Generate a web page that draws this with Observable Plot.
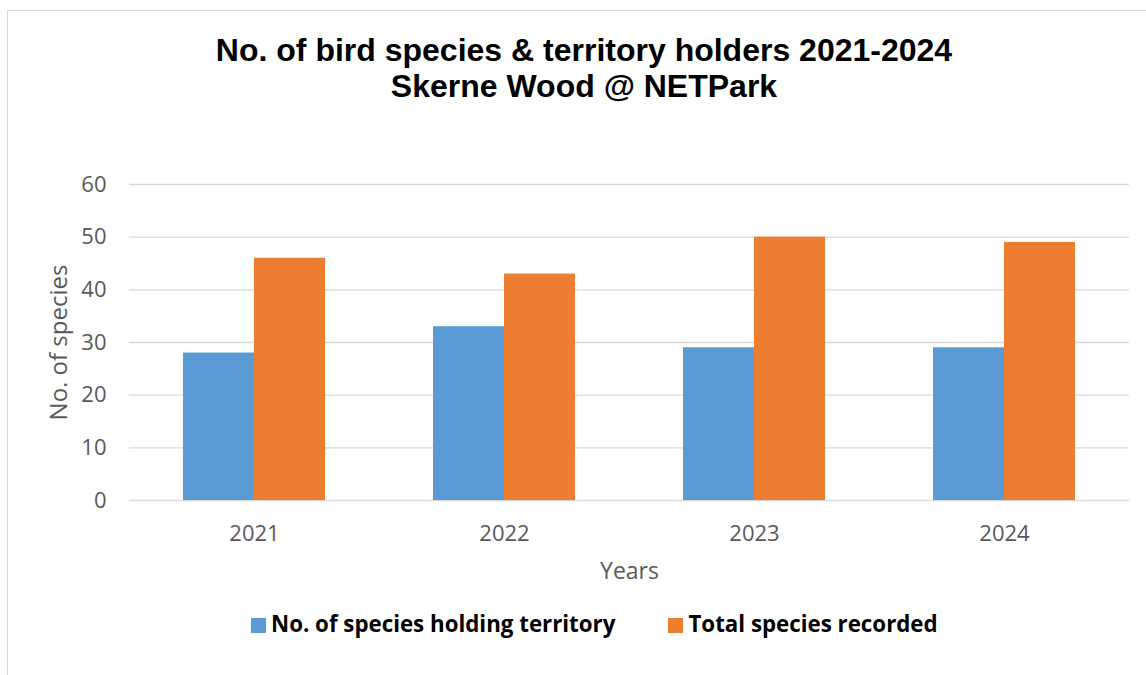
<!DOCTYPE html>
<html>
<head>
<meta charset="utf-8">
<script src="https://cdn.jsdelivr.net/npm/d3@7"></script>
<script src="https://cdn.jsdelivr.net/npm/@observablehq/plot@0.6"></script>
<style>
  html, body { margin: 0; padding: 0; background: #fff; }
  #wrap { position: relative; width: 1146px; height: 675px; overflow: hidden; background: #fff; }
  #frame { position: absolute; left: 7px; top: 10px; width: 1300px; height: 800px; border: 1.5px solid #d9d9d9; box-sizing: border-box; }
  #title { position: relative; height: 120px; box-sizing: border-box; padding-top: 32px; padding-left: 22px;
           font-family: "Liberation Sans", Arial, sans-serif; font-weight: bold; font-size: 32px; line-height: 36px;
           text-align: center; color: #000; }
  #chart { position: relative; height: 480px; }
  #legend { position: relative; height: 75px; display: flex; align-items: center; padding-left: 251px; padding-bottom: 28px; box-sizing: border-box;
            font-family: "Open Sans", sans-serif; font-weight: bold; font-size: 22.3px; color: #000; }
  .item { display: flex; align-items: center; }
  .sw { width: 15px; height: 15px; margin-right: 5px; margin-top: 3px; }
</style>
</head>
<body>
<div id="wrap">
  <div id="frame"></div>
  <div id="title">No. of bird species &amp; territory holders 2021-2024<br>Skerne Wood @ NETPark</div>
  <div id="chart"></div>
  <div id="legend"></div>
</div>
<script>
const years = ["2021", "2022", "2023", "2024"];
const territoryHolders = [28, 33, 29, 29];
const totalSpecies = [46, 43, 50, 49];
const seriesNames = ["No. of species holding territory", "Total species recorded"];
const seriesColors = ["#5B9BD5", "#ED7D31"];
const yTicks = [0, 10, 20, 30, 40, 50, 60];

const rows = [];
years.forEach((yr, i) => {
  rows.push({year: yr, series: seriesNames[0], value: territoryHolders[i]});
  rows.push({year: yr, series: seriesNames[1], value: totalSpecies[i]});
});

const chart = Plot.plot({
  width: 1146,
  height: 480,
  marginTop: 64,
  marginBottom: 100,
  marginLeft: 128,
  marginRight: 16,
  style: {fontFamily: "'Open Sans', sans-serif", fontSize: "22px", color: "#595959", background: "transparent"},
  fx: {domain: years, padding: 0},
  x: {domain: seriesNames, paddingInner: 0, paddingOuter: 0.75, axis: null},
  y: {domain: [0, 60]},
  color: {domain: seriesNames, range: seriesColors},
  marks: [
    Plot.gridY(yTicks, {stroke: "#d9d9d9", strokeOpacity: 1, strokeWidth: 1.3}),
    Plot.barY(rows, {fx: "year", x: "series", y: "value", fill: "series"}),
    Plot.axisY(yTicks, {tickSize: 0, tickPadding: 23, fontSize: 22, label: null}),
    Plot.axisY([], {tickSize: 0, fontSize: 24, label: "No. of species", labelAnchor: "center", labelArrow: "none", labelOffset: 80}),
    Plot.axisFx({anchor: "bottom", tickSize: 0, tickPadding: 25, fontSize: 22, label: null}),
    Plot.axisFx([], {anchor: "bottom", tickSize: 0, fontSize: 23, label: "Years", labelAnchor: "center", labelArrow: "none", labelOffset: 78})
  ]
});
document.getElementById("chart").appendChild(chart);

const legend = document.getElementById("legend");
seriesNames.forEach((name, i) => {
  const item = document.createElement("div");
  item.className = "item";
  if (i > 0) item.style.marginLeft = "53px";
  const sw = document.createElement("div");
  sw.className = "sw";
  sw.style.background = seriesColors[i];
  const t = document.createElement("span");
  t.textContent = name;
  item.appendChild(sw);
  item.appendChild(t);
  legend.appendChild(item);
});
</script>
</body>
</html>
